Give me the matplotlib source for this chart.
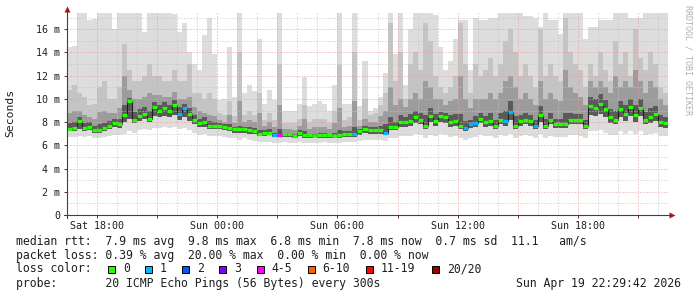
import numpy as np
import pandas as pd
import matplotlib
matplotlib.use("Agg")
import matplotlib.pyplot as plt
import matplotlib.dates as mdates
from matplotlib.patches import Rectangle
from matplotlib.ticker import FixedLocator, FuncFormatter, MultipleLocator

# ---------------- data (15-minute steps from Sat 2026-04-18 16:30) ----------------
start_time = "2026-04-18 16:30"
step = "15min"

rtt_median = [
    7.45, 7.5, 8.1, 7.5, 7.6, 7.3, 7.3, 7.5, 7.7, 7.9,
    7.8, 8.6, 9.8, 8.2, 8.5, 8.7, 8.3, 9.3, 9.0, 9.2,
    9.0, 9.5, 8.7, 9.2, 8.7, 8.2, 7.9, 8.0, 7.7, 7.7,
    7.7, 7.55, 7.5, 7.4, 7.4, 7.4, 7.35, 7.25, 7.0, 7.05,
    7.1, 6.9, 6.9, 6.95, 6.95, 6.8, 7.1, 6.85, 6.85, 6.8,
    6.85, 6.85, 6.85, 6.8, 6.85, 7.0, 7.0, 7.0, 7.2, 7.45,
    7.3, 7.3, 7.3, 7.1, 7.6, 7.6, 8.0, 8.0, 8.1, 8.4,
    8.2, 7.7, 8.5, 8.1, 8.5, 8.4, 8.0, 8.1, 7.7, 7.5,
    7.8, 7.9, 8.3, 8.0, 8.1, 7.7, 8.2, 8.1, 8.9, 7.7,
    8.1, 8.2, 8.1, 7.7, 8.6, 7.7, 8.2, 7.8, 7.8, 7.8,
    8.2, 8.2, 8.2, 7.7, 9.4, 9.25, 9.6, 9.1, 8.4, 8.2,
    9.1, 8.7, 9.3, 8.6, 9.25, 8.2, 8.4, 8.7, 8.0, 7.9,
]

rtt_min = [
    6.7, 6.7, 6.8, 6.7, 6.8, 6.6, 6.6, 6.7, 6.8, 6.9,
    6.9, 7.0, 7.2, 7.1, 7.3, 7.4, 7.3, 7.5, 7.5, 7.6,
    7.5, 7.6, 7.4, 7.5, 7.3, 7.1, 6.9, 7.0, 6.8, 6.8,
    6.8, 6.7, 6.6, 6.6, 6.5, 6.6, 6.5, 6.4, 6.3, 6.3,
    6.3, 6.2, 6.2, 6.3, 6.2, 6.2, 6.3, 6.2, 6.2, 6.2,
    6.2, 6.3, 6.2, 6.2, 6.2, 6.3, 6.3, 6.3, 6.4, 6.5,
    6.5, 6.5, 6.5, 6.4, 6.6, 6.6, 6.8, 6.8, 6.8, 7.0,
    6.9, 6.6, 6.9, 6.8, 7.0, 6.9, 6.7, 6.8, 6.6, 6.5,
    6.6, 6.7, 6.9, 6.8, 6.8, 6.6, 6.9, 6.8, 7.0, 6.6,
    6.8, 6.9, 6.8, 6.6, 7.0, 6.6, 6.8, 6.7, 6.7, 6.7,
    6.9, 6.9, 6.8, 6.6, 7.2, 7.2, 7.3, 7.1, 6.9, 6.9,
    7.2, 7.0, 7.2, 7.0, 7.2, 6.9, 7.0, 7.1, 6.8, 6.8,
]

rtt_p25 = [
    7.2, 7.25, 7.4, 7.2, 7.3, 7.1, 7.1, 7.2, 7.4, 7.6,
    7.5, 8.0, 8.3, 7.9, 8.1, 8.3, 8.0, 8.5, 8.4, 8.5,
    8.4, 8.6, 8.2, 8.4, 8.1, 7.8, 7.6, 7.6, 7.4, 7.4,
    7.4, 7.3, 7.2, 7.1, 7.1, 7.1, 7.0, 7.0, 6.8, 6.8,
    6.85, 6.7, 6.7, 6.7, 6.7, 6.6, 6.8, 6.6, 6.6, 6.6,
    6.6, 6.6, 6.6, 6.6, 6.6, 6.75, 6.75, 6.75, 6.9, 7.1,
    7.0, 7.0, 7.0, 6.85, 7.3, 7.3, 7.6, 7.6, 7.7, 7.9,
    7.8, 7.4, 8.0, 7.7, 8.0, 7.9, 7.6, 7.7, 7.4, 7.2,
    7.5, 7.6, 7.9, 7.6, 7.7, 7.4, 7.8, 7.7, 8.2, 7.4,
    7.7, 7.8, 7.7, 7.4, 8.0, 7.4, 7.8, 7.5, 7.5, 7.5,
    7.8, 7.8, 7.8, 7.4, 8.6, 8.5, 8.7, 8.4, 7.9, 7.8,
    8.4, 8.1, 8.5, 8.0, 8.5, 7.8, 7.9, 8.1, 7.6, 7.5,
]

rtt_p60 = [
    7.9, 8.0, 8.4, 7.9, 8.0, 7.7, 7.8, 7.9, 8.1, 8.3,
    8.3, 9.5, 10.1, 8.9, 9.1, 9.3, 9.0, 9.7, 9.5, 9.7,
    9.5, 9.9, 9.3, 9.6, 9.2, 8.6, 8.3, 8.4, 8.1, 8.0,
    7.9, 7.8, 7.8, 7.6, 7.7, 7.6, 7.6, 7.5, 7.3, 7.3,
    7.4, 7.1, 7.4, 7.1, 7.1, 7.0, 7.3, 7.2, 7.0, 7.0,
    7.1, 7.1, 7.0, 7.1, 7.3, 7.2, 7.2, 7.6, 7.4, 7.7,
    7.6, 7.6, 7.7, 7.8, 8.4, 8.0, 8.6, 8.4, 8.7, 9.0,
    8.8, 8.6, 9.2, 8.7, 8.9, 8.8, 8.6, 8.7, 8.7, 8.1,
    8.2, 8.5, 8.8, 8.5, 8.8, 8.2, 8.8, 9.0, 9.8, 8.5,
    8.6, 8.8, 8.6, 8.2, 9.4, 8.3, 8.8, 8.3, 8.3, 8.8,
    8.8, 8.7, 8.7, 8.2, 10.2, 10.0, 10.4, 9.9, 9.1, 9.0,
    9.8, 9.5, 10.0, 9.5, 10.0, 8.9, 9.2, 9.4, 8.6, 8.4,
]

rtt_p75 = [
    8.8, 9.0, 9.0, 8.6, 8.4, 8.3, 8.9, 9.0, 8.8, 8.8,
    9.2, 12.0, 10.8, 10.0, 10.0, 10.2, 10.5, 10.3, 10.3, 10.2,
    10.2, 10.6, 10.0, 10.0, 10.2, 9.3, 9.0, 8.8, 8.6, 8.5,
    8.2, 8.0, 8.6, 7.9, 9.8, 8.0, 8.2, 8.0, 8.8, 7.7,
    8.0, 7.6, 9.5, 7.4, 7.4, 7.3, 7.7, 8.3, 7.4, 7.6,
    7.6, 7.6, 7.4, 7.9, 9.2, 7.6, 7.7, 9.8, 7.7, 8.3,
    8.0, 8.0, 8.5, 9.0, 11.0, 9.5, 10.0, 9.3, 10.0, 10.5,
    10.0, 11.5, 11.0, 10.0, 10.0, 9.5, 9.8, 10.0, 12.0, 10.0,
    9.2, 10.0, 10.0, 10.0, 10.5, 10.0, 10.5, 11.5, 12.0, 11.0,
    10.0, 10.5, 10.0, 9.5, 11.5, 10.0, 10.5, 10.0, 9.8, 12.5,
    11.0, 10.5, 10.2, 9.5, 11.5, 11.0, 11.5, 11.0, 10.5, 12.0,
    11.0, 11.5, 11.0, 12.5, 11.5, 10.5, 11.5, 11.0, 10.0, 9.5,
]

rtt_p90 = [
    10.8, 11.2, 10.5, 10.2, 9.5, 9.6, 11.0, 11.5, 10.0, 10.0,
    11.0, 14.7, 12.5, 11.5, 11.5, 12.0, 13.0, 12.0, 12.0, 11.5,
    11.5, 12.5, 11.5, 11.5, 13.0, 10.5, 10.5, 10.0, 10.5, 10.0,
    8.8, 8.6, 9.8, 8.5, 14.0, 8.6, 9.0, 8.6, 10.5, 8.2,
    8.8, 8.2, 13.0, 7.9, 7.9, 7.9, 8.3, 9.5, 8.0, 8.3,
    8.3, 8.3, 7.9, 9.0, 13.0, 8.2, 8.4, 14.0, 8.2, 10.0,
    8.6, 8.8, 9.5, 10.5, 16.5, 11.5, 14.0, 10.0, 13.0, 14.0,
    12.5, 16.5, 15.0, 12.0, 11.0, 10.5, 11.0, 12.0, 16.5, 13.0,
    10.5, 13.0, 12.0, 12.5, 13.5, 12.0, 13.0, 15.0, 16.0, 14.0,
    12.0, 13.0, 12.0, 11.0, 16.0, 12.0, 13.0, 12.0, 11.5, 17.0,
    14.0, 13.0, 12.5, 11.0, 13.0, 12.0, 14.0, 12.5, 11.5, 15.0,
    13.0, 14.0, 12.0, 16.0, 13.5, 12.5, 14.0, 13.0, 11.0, 10.5,
]

rtt_max = [
    14.5, 14.6, 18.0, 18.0, 16.8, 16.9, 18.0, 18.0, 18.0, 16.0,
    18.0, 18.0, 18.0, 18.0, 18.0, 15.8, 18.0, 18.0, 18.0, 18.0,
    18.0, 17.3, 15.8, 16.5, 14.0, 13.0, 12.5, 15.5, 17.0, 13.9,
    9.9, 10.0, 14.5, 10.2, 18.0, 10.5, 11.2, 10.7, 15.2, 9.6,
    10.8, 9.9, 18.0, 9.0, 9.0, 9.0, 9.6, 11.9, 9.4, 9.6,
    9.8, 9.6, 9.0, 11.2, 18.0, 9.6, 9.6, 18.0, 9.4, 13.3,
    9.0, 9.2, 10.2, 12.2, 18.0, 13.9, 18.0, 11.2, 16.0, 18.0,
    18.0, 18.0, 18.0, 17.2, 14.5, 12.5, 13.3, 15.2, 16.8, 16.8,
    12.5, 17.0, 16.8, 16.8, 17.0, 17.0, 18.0, 18.0, 18.0, 18.0,
    18.0, 17.1, 17.1, 17.0, 16.2, 18.0, 16.8, 16.8, 15.6, 18.0,
    18.0, 18.0, 18.0, 15.2, 16.2, 16.2, 16.8, 16.8, 16.8, 18.0,
    18.0, 18.0, 17.0, 17.0, 17.0, 18.0, 18.0, 18.0, 18.0, 18.0,
]

loss_count = [
    0, 0, 0, 0, 0, 0, 0, 0, 0, 0,
    0, 0, 0, 0, 0, 0, 0, 0, 0, 0,
    0, 0, 1, 1, 0, 0, 0, 0, 0, 0,
    0, 0, 0, 0, 0, 0, 0, 0, 0, 0,
    0, 1, 4, 0, 0, 0, 0, 0, 0, 0,
    0, 0, 0, 0, 0, 0, 0, 1, 0, 0,
    0, 0, 0, 1, 0, 0, 0, 0, 0, 0,
    0, 0, 0, 0, 0, 0, 0, 0, 0, 1,
    1, 1, 0, 0, 0, 0, 0, 1, 1, 0,
    0, 0, 0, 1, 0, 0, 0, 0, 0, 0,
    0, 0, 0, 0, 0, 0, 0, 0, 0, 0,
    0, 0, 0, 0, 0, 0, 0, 0, 0, 0,
]

loss_labels = ["0", "1", "2", "3", "4-5", "6-10", "11-19", "20/20"]
loss_upper = [0, 1, 2, 3, 5, 10, 19, 20]
loss_colors = ["#26ff00", "#00b8ff", "#0059ff", "#7e00ff", "#ff00ff", "#ff5e00", "#ff0000", "#a10000"]

y_ticks = [0, 2, 4, 6, 8, 10, 12, 14, 16]
y_top = 17.4

stats_lines = [
    "median rtt:  7.9 ms avg  9.8 ms max  6.8 ms min  7.8 ms now  0.7 ms sd  11.1   am/s",
    "packet loss: 0.39 % avg  20.00 % max  0.00 % min  0.00 % now",
]
probe_text = "probe:       20 ICMP Echo Pings (56 Bytes) every 300s"
stamp_text = "Sun Apr 19 22:29:42 2026"
side_text = "RRDTOOL / TOBI OETIKER"
y_label = "Seconds"

# ---------------- figure ----------------
W, H = 697, 297
MONO = "DejaVu Sans Mono"
fig = plt.figure(figsize=(W / 100, H / 100), dpi=100)
fig.patch.set_facecolor("white")

L, R, B, T = 67, 668, 215, 13
ax = fig.add_axes([L / W, 1 - B / H, (R - L) / W, (B - T) / H])
ax.set_facecolor("white")

n = len(rtt_median)
edges = pd.date_range(start_time, periods=n + 1, freq=step)
xe = mdates.date2num(edges.to_pydatetime())


def ext(a):
    a = np.asarray(a, dtype=float)
    return np.append(a, a[-1])


ax.fill_between(xe, ext(rtt_min), ext(rtt_max), step="post", color="#dddddd", lw=0, zorder=1)
ax.fill_between(xe, ext(rtt_p25), ext(rtt_p90), step="post", color="#c4c4c4", lw=0, zorder=1.1)
ax.fill_between(xe, ext(rtt_p25), ext(rtt_p75), step="post", color="#9c9c9c", lw=0, zorder=1.2)
ax.fill_between(xe, ext(rtt_p25), ext(rtt_p60), step="post", color="#5a5a5a", lw=0, zorder=1.3)

# median: dark connecting line + loss-coloured segments
ax.step(xe, ext(rtt_median), where="post", color="#202020", lw=0.8, zorder=3)
idx = np.searchsorted(loss_upper, loss_count)
seg_colors = [loss_colors[i] for i in idx]
ax.hlines(rtt_median, xe[:-1], xe[1:], colors=seg_colors, lw=2.3, zorder=4)

t_lo = mdates.date2num(pd.Timestamp(start_time).to_pydatetime())
t_hi = mdates.date2num(pd.Timestamp("2026-04-19 22:30").to_pydatetime())
ax.set_xlim(t_lo, t_hi)
ax.set_ylim(0, y_top)

# grid
ax.set_axisbelow(False)
ax.xaxis.set_major_locator(mdates.HourLocator(byhour=range(0, 24, 3)))
ax.xaxis.set_minor_locator(mdates.HourLocator())


def xfmt(x, pos):
    d = mdates.num2date(x)
    return d.strftime("%a %H:%M") if d.hour % 6 == 0 else ""


ax.xaxis.set_major_formatter(FuncFormatter(xfmt))
ax.yaxis.set_major_locator(FixedLocator(y_ticks))
ax.yaxis.set_minor_locator(MultipleLocator(1))
ax.yaxis.set_major_formatter(FuncFormatter(lambda v, p: "0" if v == 0 else f"{v:g} m"))

ax.grid(which="major", color="#f09a9a", lw=0.72, ls=(0, (1, 2)), zorder=2.5)
ax.grid(which="minor", color="#c4c4c4", lw=0.72, ls=(0, (1, 2)), zorder=2.5)

ax.tick_params(which="major", length=2, width=0.7, color="#404040", labelsize=7.2, pad=3)
ax.tick_params(which="minor", length=0)
ax.tick_params(axis="x", pad=2.5)
for lab in ax.get_xticklabels() + ax.get_yticklabels():
    lab.set_family(MONO)
    lab.set_color("#202020")

for s in ax.spines.values():
    s.set_visible(False)

# overlay in pixel coordinates
ov = fig.add_axes([0, 0, 1, 1], zorder=5)
ov.set_xlim(0, W)
ov.set_ylim(H, 0)
ov.axis("off")
ov.patch.set_alpha(0)

ov.plot([L, L], [B + 3, 10], color="#404040", lw=0.8)
ov.plot([L - 3, R + 2], [B, B], color="#404040", lw=0.8)
ov.plot([L], [9], marker="^", ms=4.5, color="#a01818", mec="none")
ov.plot([R + 4], [B], marker=">", ms=4.5, color="#a01818", mec="none")

ov.text(10, 113, y_label, rotation=90, ha="center", va="center", family=MONO, size=8.2, color="#202020")
ov.text(688, 5, side_text, rotation=270, ha="center", va="top", family=MONO, size=6, color="#b0b0b0")

FS = 8.3
for i, line in enumerate(stats_lines):
    ov.text(16, 241 + 14 * i, line, ha="left", va="center", family=MONO, size=FS, color="#202020")
ov.text(16, 269, "loss color:", ha="left", va="center", family=MONO, size=FS, color="#202020")
box_x = [108.3, 145.0, 182.3, 219.3, 256.7, 307.7, 365.7, 431.7]
for bx, lab, col in zip(box_x, loss_labels, loss_colors):
    ov.add_patch(Rectangle((bx, 265.5), 7, 7.5, facecolor=col, edgecolor="black", lw=0.7))
    ov.text(bx + 15, 269, lab, ha="left", va="center", family=MONO, size=FS, color="#202020")
ov.text(16, 283, probe_text, ha="left", va="center", family=MONO, size=FS, color="#202020")
ov.text(681, 283, stamp_text, ha="right", va="center", family=MONO, size=FS, color="#202020")

fig.savefig("out.png", dpi=100)
